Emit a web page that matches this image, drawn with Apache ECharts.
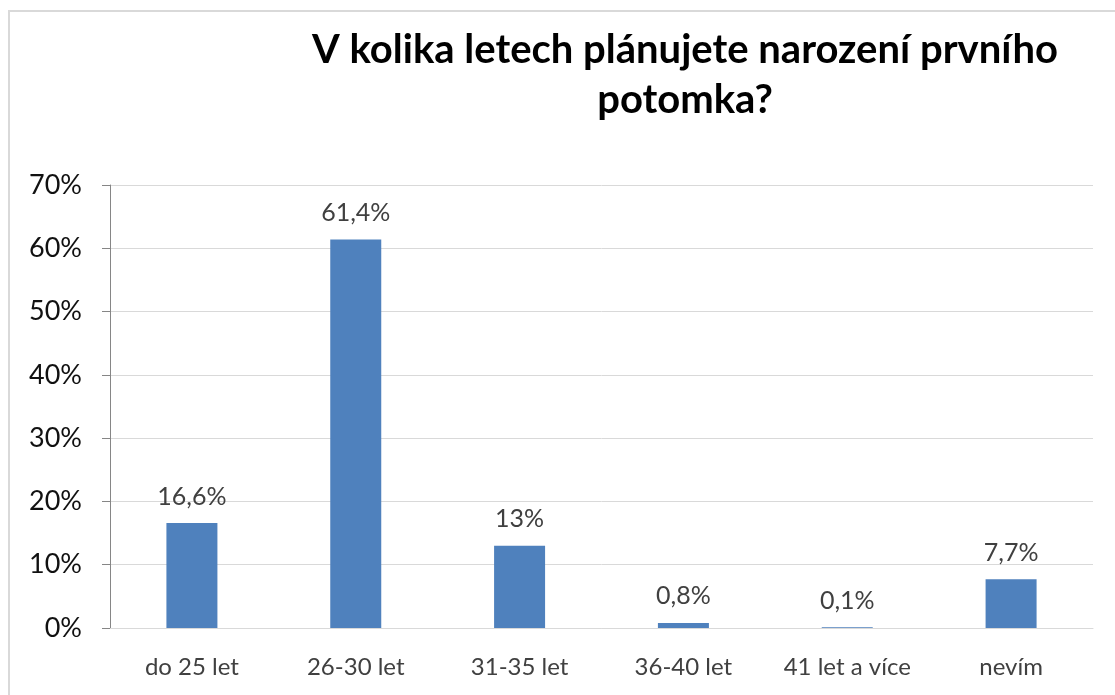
<!DOCTYPE html>
<html>
<head>
<meta charset="utf-8">
<script src="https://cdn.jsdelivr.net/npm/echarts@6/dist/echarts.min.js"></script>
<style>
  html, body { margin: 0; padding: 0; background: #fff; }
  #frame { position: absolute; left: 8px; top: 10px; width: 1120px; height: 700px; border: 2px solid #d9d9d9; box-sizing: border-box; }
  #chart { position: absolute; left: 0; top: 0; width: 1115px; height: 695px; }
</style>
</head>
<body>
<div id="frame"></div>
<div id="chart"></div>
<script>
// chart data
var categories = ['do 25 let', '26-30 let', '31-35 let', '36-40 let', '41 let a více', 'nevím'];
var values = [16.6, 61.4, 13, 0.8, 0.1, 7.7];
var yTicks = [0, 10, 20, 30, 40, 50, 60, 70];

var chart = echarts.init(document.getElementById('chart'));
var font = 'Lato, "Liberation Sans", sans-serif';

var option = {
    animation: false,
    title: {
        text: 'V kolika letech plánujete narození prvního\npotomka?',
        left: 680,
        top: 20,
        textAlign: 'center',
        textStyle: {
            fontFamily: font,
            fontSize: 40,
            fontWeight: 'bold',
            color: '#000',
            lineHeight: 50
        }
    },
    grid: {
        left: 110,
        right: 22,
        top: 185,
        bottom: 67
    },
    xAxis: {
        type: 'category',
        data: categories,
        axisLine: { lineStyle: { color: '#d9d9d9', width: 1 } },
        axisTick: { show: false },
        axisLabel: {
            interval: 0,
            margin: 27,
            fontFamily: font,
            fontSize: 24,
            color: '#404040'
        }
    },
    yAxis: {
        type: 'value',
        min: yTicks[0],
        max: yTicks[yTicks.length - 1],
        interval: 10,
        axisLine: { show: true, lineStyle: { color: '#868686', width: 1 } },
        axisTick: { show: true, length: 8, lineStyle: { color: '#868686' } },
        splitLine: { lineStyle: { color: '#d9d9d9', width: 1 } },
        axisLabel: {
            margin: 28,
            fontFamily: font,
            fontSize: 27,
            color: '#111',
            formatter: '{value}%'
        }
    },
    series: [{
        type: 'bar',
        data: values,
        barWidth: 51,
        itemStyle: { color: '#4f81bd' },
        label: {
            show: true,
            position: 'top',
            distance: 14,
            fontFamily: font,
            fontSize: 25,
            color: '#404040',
            formatter: function (p) {
                return String(p.value).replace('.', ',') + '%';
            }
        }
    }]
};

chart.setOption(option);
</script>
</body>
</html>
